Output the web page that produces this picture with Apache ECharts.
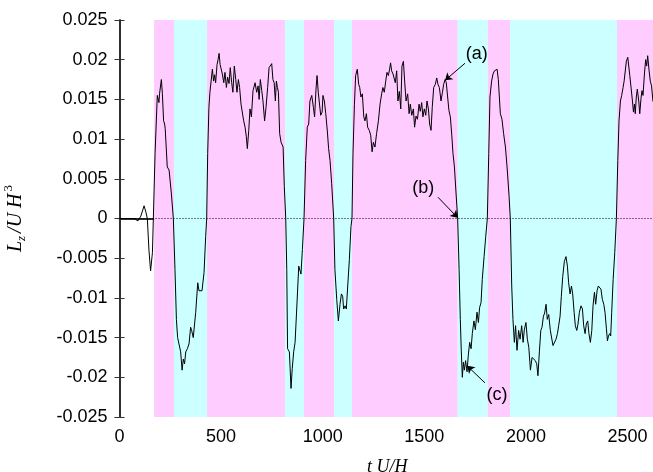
<!DOCTYPE html>
<html><head><meta charset="utf-8">
<script src="https://cdn.jsdelivr.net/npm/echarts@6/dist/echarts.min.js"></script>
<style>html,body{margin:0;padding:0;background:#fff}#c{width:653px;height:472px}</style>
</head><body><div id="c"></div>
<script>
// ---- data ----
const lzTrace = [[0,0],[40,0],[71,0],[91,-0.0003],[105,0.0003],[121,0.0016],[130,0.0008],[137,0],[145,-0.004],[153,-0.0066],[162,-0.0043],[175,0.0082],[186,0.0155],[191,0.0157],[194,0.0146],[197,0.0157],[206,0.0175],[211,0.0157],[217,0.0123],[222,0.0119],[225,0.0113],[235,0.0065],[244,0.0061],[255,0.0032],[265,0],[273,-0.0064],[280,-0.0127],[286,-0.015],[294,-0.0152],[301,-0.0168],[308,-0.0191],[314,-0.0177],[320,-0.0183],[326,-0.0168],[334,-0.0164],[342,-0.0158],[350,-0.0137],[355,-0.0141],[363,-0.015],[375,-0.0118],[385,-0.0081],[391,-0.0091],[399,-0.0089],[406,-0.0091],[416,-0.0068],[424,-0.0023],[429,0],[434,0.0082],[440,0.014],[445,0.0159],[451,0.0161],[457,0.0188],[463,0.0173],[468,0.0181],[473,0.0171],[480,0.0194],[485,0.02],[490,0.0208],[495,0.0194],[501,0.0196],[506,0.0182],[513,0.0171],[519,0.0184],[526,0.0165],[532,0.0178],[539,0.017],[545,0.019],[552,0.0171],[558,0.0159],[565,0.0192],[572,0.0175],[578,0.0159],[585,0.0175],[591,0.0165],[598,0.0144],[604,0.0146],[611,0.0123],[618,0.0115],[624,0.0103],[629,0.0088],[636,0.0111],[642,0.0138],[649,0.0128],[657,0.0161],[667,0.0171],[675,0.0159],[682,0.0167],[687,0.015],[693,0.0175],[700,0.0161],[706,0.0148],[714,0.0123],[721,0.014],[729,0.0165],[736,0.019],[742,0.0192],[749,0.0195],[755,0.0175],[761,0.0171],[767,0.0148],[772,0.0173],[777,0.0165],[782,0.0159],[788,0.0107],[795,0.0096],[805,0.009],[811,0.004],[818,0],[823,-0.0064],[827,-0.0164],[836,-0.0168],[844,-0.0214],[850,-0.0189],[857,-0.0168],[864,-0.0156],[872,-0.0114],[882,-0.006],[887,-0.0058],[893,-0.007],[900,-0.0039],[908,0],[916,0.0073],[924,0.0115],[931,0.0119],[937,0.0148],[946,0.0155],[954,0.014],[960,0.0128],[967,0.0163],[972,0.018],[978,0.0159],[985,0.0157],[990,0.013],[997,0.0134],[1001,0.0155],[1008,0.0148],[1015,0.0132],[1023,0.0109],[1029,0.0088],[1036,0.0073],[1044,0.0044],[1054,0],[1060,-0.0064],[1069,-0.0102],[1077,-0.0129],[1085,-0.0108],[1092,-0.0095],[1098,-0.0098],[1103,-0.0114],[1110,-0.011],[1116,-0.0114],[1123,-0.0085],[1131,-0.0052],[1139,-0.001],[1144,0],[1149,0.0082],[1156,0.0144],[1162,0.018],[1170,0.0188],[1177,0.0169],[1182,0.0165],[1188,0.0153],[1195,0.0157],[1202,0.0128],[1208,0.0123],[1215,0.0132],[1221,0.0115],[1229,0.0111],[1236,0.0105],[1243,0.0084],[1249,0.0096],[1257,0.009],[1265,0.0107],[1274,0.0123],[1282,0.0144],[1290,0.0157],[1296,0.0165],[1303,0.0159],[1310,0.0173],[1316,0.0184],[1323,0.018],[1329,0.0188],[1334,0.0196],[1339,0.0186],[1346,0.0182],[1357,0.0171],[1364,0.0186],[1370,0.0148],[1377,0.016],[1384,0.0138],[1390,0.0192],[1397,0.0198],[1403,0.0173],[1410,0.0148],[1418,0.0157],[1425,0.0132],[1431,0.0144],[1438,0.013],[1446,0.0138],[1452,0.0115],[1459,0.0129],[1466,0.0125],[1474,0.0144],[1480,0.0135],[1487,0.0146],[1493,0.0128],[1500,0.0138],[1507,0.013],[1513,0.0148],[1520,0.0138],[1526,0.0119],[1533,0.0111],[1539,0.014],[1546,0.0165],[1554,0.0169],[1561,0.0177],[1567,0.0169],[1574,0.0165],[1582,0.0148],[1589,0.0159],[1595,0.0169],[1602,0.0175],[1608,0.0171],[1615,0.0169],[1621,0.0136],[1628,0.0128],[1635,0.0105],[1641,0.0082],[1648,0.0065],[1656,0.0032],[1664,0],[1671,-0.0064],[1677,-0.0127],[1682,-0.0168],[1687,-0.02],[1692,-0.0181],[1697,-0.0191],[1703,-0.0179],[1710,-0.0193],[1716,-0.0173],[1723,-0.0156],[1730,-0.0164],[1736,-0.0145],[1744,-0.0129],[1751,-0.014],[1759,-0.0118],[1766,-0.0131],[1772,-0.0112],[1779,-0.0106],[1785,-0.0077],[1794,-0.0048],[1802,-0.0023],[1810,0],[1817,0.0082],[1823,0.0153],[1831,0.0173],[1838,0.0182],[1845,0.0186],[1851,0.0184],[1858,0.0188],[1864,0.0175],[1874,0.0132],[1882,0.0125],[1890,0.0107],[1899,0.009],[1907,0.0065],[1917,0.0028],[1923,0],[1930,-0.0085],[1936,-0.0127],[1943,-0.0156],[1949,-0.0135],[1956,-0.0166],[1964,-0.0141],[1971,-0.0152],[1979,-0.0135],[1986,-0.0156],[1992,-0.014],[2000,-0.0131],[2007,-0.0152],[2014,-0.0162],[2022,-0.0191],[2030,-0.0175],[2038,-0.0177],[2046,-0.0179],[2053,-0.0183],[2059,-0.0198],[2066,-0.0168],[2073,-0.0141],[2079,-0.0137],[2086,-0.0123],[2092,-0.0119],[2099,-0.0108],[2105,-0.0127],[2112,-0.0121],[2120,-0.0141],[2127,-0.0143],[2133,-0.016],[2141,-0.0158],[2148,-0.0152],[2155,-0.0145],[2161,-0.0135],[2168,-0.0123],[2174,-0.0098],[2181,-0.0073],[2189,-0.0054],[2197,-0.0048],[2204,-0.006],[2210,-0.0081],[2217,-0.0095],[2224,-0.0085],[2230,-0.0095],[2237,-0.0118],[2243,-0.0135],[2250,-0.0141],[2256,-0.0133],[2263,-0.0118],[2271,-0.011],[2278,-0.0114],[2284,-0.0135],[2291,-0.0145],[2297,-0.0133],[2304,-0.0129],[2310,-0.0145],[2317,-0.0156],[2324,-0.0141],[2330,-0.011],[2337,-0.0093],[2343,-0.0108],[2350,-0.0091],[2356,-0.0085],[2363,-0.0083],[2369,-0.0089],[2376,-0.0102],[2383,-0.0108],[2389,-0.0118],[2396,-0.0139],[2401,-0.0154],[2406,-0.0148],[2412,-0.0145],[2417,-0.0148],[2422,-0.0118],[2429,-0.0077],[2437,-0.0043],[2445,0],[2452,0.0073],[2458,0.0123],[2465,0.0148],[2471,0.0155],[2478,0.0165],[2483,0.0173],[2489,0.0175],[2494,0.0198],[2501,0.0203],[2506,0.0205],[2511,0.018],[2517,0.0178],[2524,0.0148],[2529,0.0134],[2534,0.0144],[2538,0.0132],[2543,0.0153],[2548,0.0163],[2555,0.0148],[2560,0.0132],[2566,0.0151],[2571,0.0161],[2576,0.0155],[2583,0.0182],[2589,0.02],[2594,0.0192],[2599,0.0205],[2606,0.0186],[2612,0.0173],[2618,0.0167],[2625,0.0148],[2635,0.0142]];

const bandEdges = [170, 268, 431, 815, 908, 1056, 1144, 1664, 1812, 1922, 2448, 2635];
const bandKinds = ['pink','cyan','pink','cyan','pink','cyan','pink','cyan','pink','cyan','pink'];
const bandColors = { pink: '#ffccff', cyan: '#ccffff' };

const xRange = [0, 2635];
const xStep = 500;
const yRange = [-0.025, 0.025];
const yStep = 0.005;

const noteLabels = ['(a)', '(b)', '(c)'];
const noteTextAt = [[1758, 0.0207], [1495, 0.0038], [1858, -0.0222]];
const noteArrowFrom = [[1700, 0.01955], [1567, 0.00268], [1798, -0.0207]];
const noteArrowTo = [[1602, 0.0174], [1664, 0.0001], [1711, -0.01856]];

// ---- chart ----
const chart = echarts.init(document.getElementById('c'), null, { renderer: 'canvas' });
const sans = 'Liberation Sans, Arial, Helvetica, sans-serif';
const serif = 'Liberation Serif, Times New Roman, serif';
const frame = { show: true, lineStyle: { color: '#222', width: 1.5 } };
const ticksIn = { show: true, inside: true, length: 5, lineStyle: { color: '#333', width: 1 } };
const fmtY = v => String(parseFloat(Number(v).toFixed(4)));
const fmtX = v => String(Math.round(v));

const bandAreas = bandKinds.map((k, i) => [
  { xAxis: bandEdges[i], itemStyle: { color: bandColors[k] } },
  { xAxis: bandEdges[i + 1] }
]);

chart.setOption({
  animation: false,
  backgroundColor: '#fff',
  grid: { left: 119.5, right: -2, top: 20, bottom: 55, containLabel: false, outerBoundsMode: 'none' },
  xAxis: [
    { type: 'value', min: xRange[0], max: xRange[1], interval: xStep, position: 'bottom',
      axisLine: frame, axisTick: ticksIn, splitLine: { show: false },
      axisLabel: { color: '#000', fontSize: 18, fontFamily: sans, margin: 11, formatter: fmtX },
      name: 't U/H', nameLocation: 'middle', nameGap: 41,
      nameTextStyle: { color: '#000', fontSize: 18, fontFamily: serif, fontStyle: 'italic' } },
    { type: 'value', min: xRange[0], max: xRange[1], interval: xStep, position: 'top',
      axisLine: frame, axisTick: ticksIn, axisLabel: { show: false }, splitLine: { show: false } }
  ],
  yAxis: [
    { type: 'value', min: yRange[0], max: yRange[1], interval: yStep, position: 'left',
      axisLine: frame, axisTick: ticksIn, splitLine: { show: false },
      axisLabel: { color: '#000', fontSize: 18, fontFamily: sans, margin: 12, formatter: fmtY },
      name: '{it|L}{sub|z}{it|/U}{it| H}{sup|3}', nameLocation: 'middle', nameGap: 91, nameRotate: 90,
      nameTextStyle: { color: '#000', rich: {
        it: { fontSize: 20, fontFamily: serif, fontStyle: 'italic', lineHeight: 26, verticalAlign: 'middle', color: '#000' },
        sub: { fontSize: 13, fontFamily: serif, fontStyle: 'italic', lineHeight: 26, verticalAlign: 'bottom', padding: [0, 3, 0, 0], color: '#000' },
        sup: { fontSize: 13, fontFamily: serif, lineHeight: 26, verticalAlign: 'top', padding: [0, 0, 0, 2], color: '#000' }
      } } },
    { type: 'value', min: yRange[0], max: yRange[1], interval: yStep, position: 'right',
      axisLine: frame, axisTick: ticksIn, axisLabel: { show: false }, splitLine: { show: false } }
  ],
  series: [
    { type: 'line', data: [], z: 1, silent: true,
      markArea: { silent: true, data: bandAreas } },
    { type: 'line', data: lzTrace, z: 3, showSymbol: false, symbol: 'none', silent: true,
      lineStyle: { color: '#000', width: 1 },
      markLine: { silent: true, symbol: ['none', 'none'], label: { show: false },
        lineStyle: { color: '#000', width: 1, type: [1, 2] },
        data: [{ yAxis: 0 }] } },
    { type: 'line', data: [], z: 4, silent: true,
      markLine: { silent: true, symbol: ['none', 'arrow'], symbolSize: 7, label: { show: false },
        lineStyle: { color: '#000', width: 1, type: 'solid' },
        data: noteArrowFrom.map((p, i) => [{ coord: p }, { coord: noteArrowTo[i] }]) } },
    { type: 'scatter', z: 5, silent: true, symbolSize: 1, itemStyle: { color: 'rgba(0,0,0,0)' },
      data: noteTextAt.map((p, i) => ({ value: p, name: noteLabels[i] })),
      label: { show: true, position: 'inside', formatter: p => p.name, color: '#000',
        textBorderWidth: 0, textShadowBlur: 0, opacity: 1, fontSize: 18, fontFamily: sans } }
  ]
});
</script></body></html>
